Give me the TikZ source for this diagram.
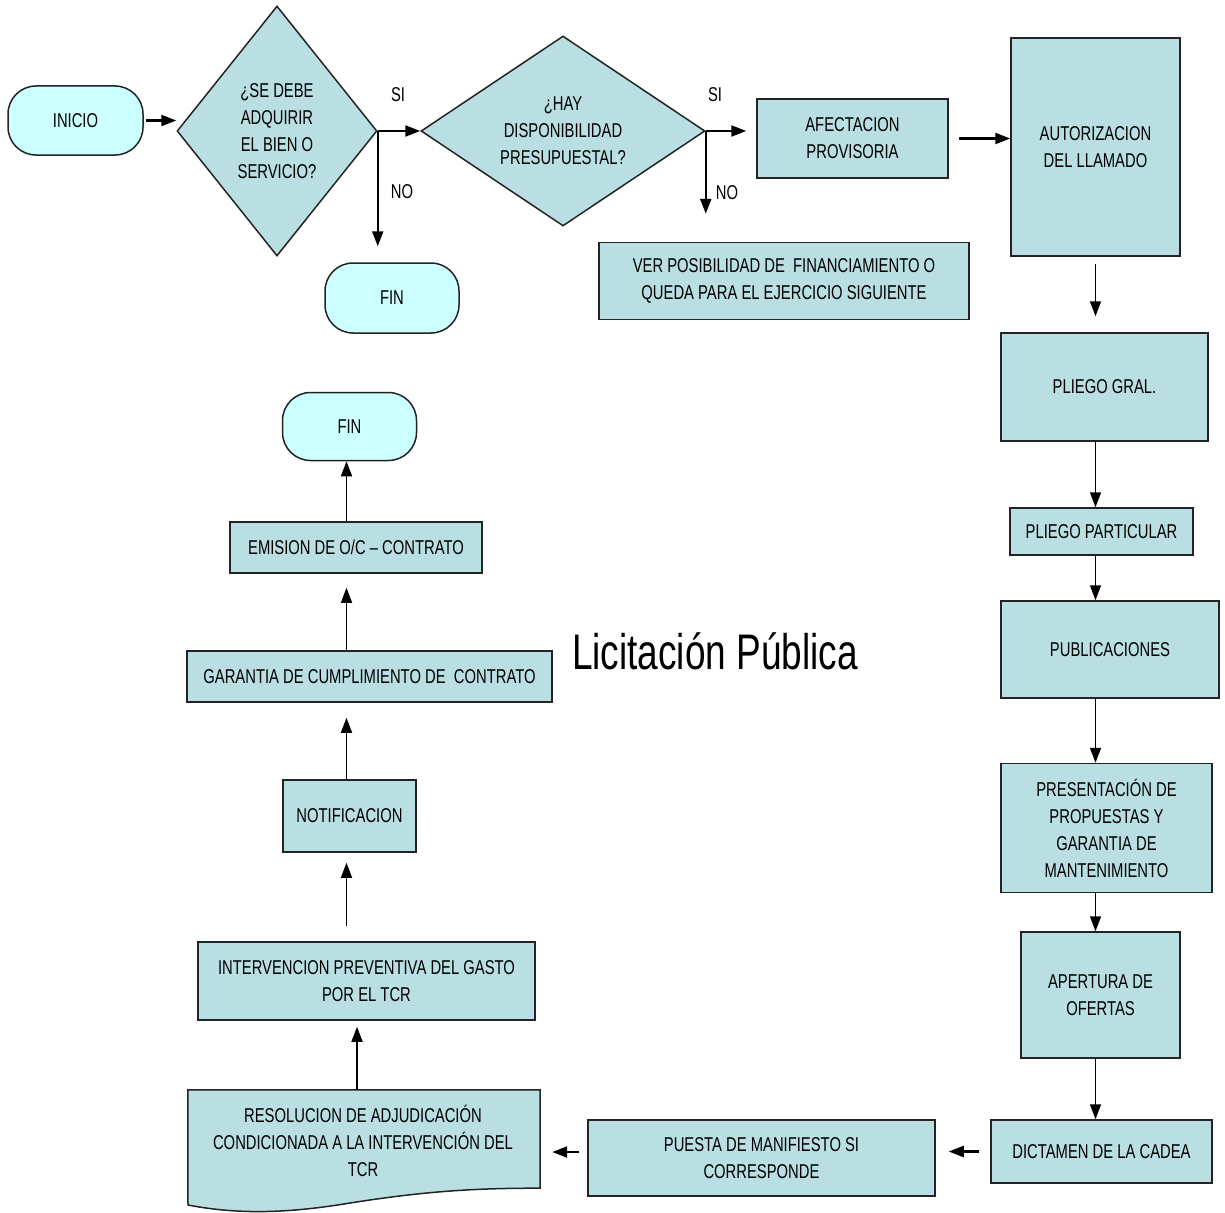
\documentclass[tikz,border=0pt]{standalone}
\usepackage{fontspec}
\setmainfont{Liberation Sans}[FakeStretch=0.74]
\usetikzlibrary{shapes.geometric,arrows.meta}
\definecolor{boxfill}{RGB}{185,223,227}
\definecolor{termfill}{RGB}{204,255,255}
\definecolor{edgecol}{RGB}{35,35,35}
\tikzset{
  txt/.style={font=\fontsize{20}{27}\selectfont, align=center, text=black},
  base/.style={txt, draw=edgecol, line width=1.5pt, inner sep=0pt},
  proc/.style={base, rectangle, fill=boxfill},
  term/.style={base, rectangle, rounded corners=28pt, fill=termfill},
  dec/.style={base, diamond, fill=boxfill},
  arr/.style={-{Triangle[length=15pt,width=11pt]}, line width=1.5pt, black},
  arrb/.style={arr, line width=2.2pt},
}
\begin{document}
\begin{tikzpicture}[x=1pt,y=-1pt]
\useasboundingbox (0,0) rectangle (1225,1212);

% top row
\node[term, minimum width=135pt, minimum height=69pt] (ini) at (75.5,120.5) {INICIO};
\node[dec, minimum width=200pt, minimum height=250pt,
      label={[txt]center:¿SE DEBE\\ADQUIRIR\\EL BIEN O\\SERVICIO?}] (d1) at (277,131) {};
\node[term, minimum width=134pt, minimum height=70pt] (fin1) at (392,298) {FIN};
\node[dec, minimum width=284pt, minimum height=190pt,
      label={[txt]center:¿HAY\\DISPONIBILIDAD\\PRESUPUESTAL?}] (d2) at (563,131) {};
\node[proc, minimum width=191pt, minimum height=79pt] (afe) at (852.5,138.5) {AFECTACION\\PROVISORIA};
\node[proc, minimum width=370pt, minimum height=77pt] (ver) at (784,281) {VER POSIBILIDAD DE~ FINANCIAMIENTO O\\QUEDA PARA EL EJERCICIO SIGUIENTE};
\node[proc, minimum width=169pt, minimum height=218pt] (aut) at (1095.5,147) {AUTORIZACION\\DEL LLAMADO};

\node[txt] (si1) at (398,95) {SI};
\node[txt] (no1) at (402,192) {NO};
\node[txt] (si2) at (715,95) {SI};
\node[txt] (no2) at (727,193) {NO};

% right column
\node[proc, minimum width=207pt, minimum height=108pt] (pg) at (1104.5,387) {PLIEGO GRAL.};
\node[proc, minimum width=183pt, minimum height=47pt] (pp) at (1101.5,531.5) {PLIEGO PARTICULAR};
\node[proc, minimum width=218pt, minimum height=97pt] (pub) at (1110,649.5) {PUBLICACIONES};
\node[proc, minimum width=211pt, minimum height=129pt] (pres) at (1106.5,828) {PRESENTACIÓN DE\\PROPUESTAS Y\\GARANTIA DE\\MANTENIMIENTO};
\node[proc, minimum width=159pt, minimum height=126pt] (ape) at (1100.5,995) {APERTURA DE\\OFERTAS};
\node[proc, minimum width=221pt, minimum height=63pt] (dic) at (1101.5,1151.5) {DICTAMEN DE LA CADEA};

% bottom row
\node[proc, minimum width=347pt, minimum height=76pt] (pue) at (761.5,1158) {PUESTA DE MANIFIESTO SI\\CORRESPONDE};
\node[draw=none, inner sep=0pt, minimum width=352pt, minimum height=98pt] (res) at (364,1139) {};
\draw[draw=edgecol, line width=1.5pt, fill=boxfill]
  (res.north west) -- (res.north east) -- (res.south east)
  .. controls (470,1188) and (420,1192) .. (350,1203)
  .. controls (290,1213) and (240,1215) .. (188,1205) -- cycle;
\node[txt] (rest) at (363,1141) {RESOLUCION DE ADJUDICACIÓN\\CONDICIONADA A LA INTERVENCIÓN DEL\\TCR};

% left column
\node[proc, minimum width=337pt, minimum height=78pt] (int) at (366.5,981) {INTERVENCION PREVENTIVA DEL GASTO\\POR EL TCR};
\node[proc, minimum width=133pt, minimum height=72pt] (not) at (349.5,816) {NOTIFICACION};
\node[proc, minimum width=365pt, minimum height=51pt] (gar) at (369.5,676.5) {GARANTIA DE CUMPLIMIENTO DE~ CONTRATO};
\node[proc, minimum width=252pt, minimum height=51pt] (emi) at (356,547.5) {EMISION DE O/C – CONTRATO};
\node[term, minimum width=134pt, minimum height=68pt] (fin2) at (349.5,426.5) {FIN};

% title
\node[font=\fontsize{50}{60}\selectfont, text=black] (title) at (715,651) {Licitación Pública};

% connectors
\draw[arrb, shorten <=2pt] (ini.east) -- (ini.east -| d1.west);
\draw[arrb] (d1.east) -- (d2.west);
\draw[arrb, shorten >=16pt] (d1.east) -- (d1.east |- fin1.north);
\draw[arrb, shorten >=10pt] (d2.east) -- (d2.east -| afe.west);
\draw[arrb, shorten >=28pt] (d2.east) -- (d2.east |- ver.north);
\draw[arrb, shorten <=10pt] (afe.east) -- (afe.east -| aut.west);

\draw[arr, shorten <=7pt, shorten >=16pt] (aut.south) -- (aut.south |- pg.north);
\draw[arr] (pg.south -| aut.south) -- (pp.north -| aut.south);
\draw[arr] (pp.south -| aut.south) -- (pub.north -| aut.south);
\draw[arr] (pub.south -| aut.south) -- (pres.north -| aut.south);
\draw[arr] (pres.south -| aut.south) -- (ape.north -| aut.south);
\draw[arr] (ape.south -| aut.south) -- (dic.north -| aut.south);

\draw[arrb, shorten <=11pt, shorten >=13pt] (dic.west) -- (dic.west -| pue.east);
\draw[arrb, shorten <=8pt, shorten >=12pt] ([yshift=6pt]pue.west) -- ([yshift=6pt]pue.west -| res.east);

\draw[arr, shorten >=6pt] ([xshift=-7pt]res.north) -- ([xshift=-7pt]res.north |- int.south);
\draw[arr, shorten <=15pt, shorten >=10pt] ([xshift=-3pt]int.north -| not.north) -- ([xshift=-3pt]not.south);
\draw[arr, shorten >=15pt] ([xshift=-3pt]not.north) -- ([xshift=-3pt]not.north |- gar.south);
\draw[arr, shorten >=14pt] ([xshift=-3pt]gar.north -| not.north) -- ([xshift=-3pt]emi.south -| not.north);
\draw[arr] ([xshift=-3pt]emi.north -| not.north) -- ([xshift=-3pt]fin2.south -| not.north);
\end{tikzpicture}
\end{document}
